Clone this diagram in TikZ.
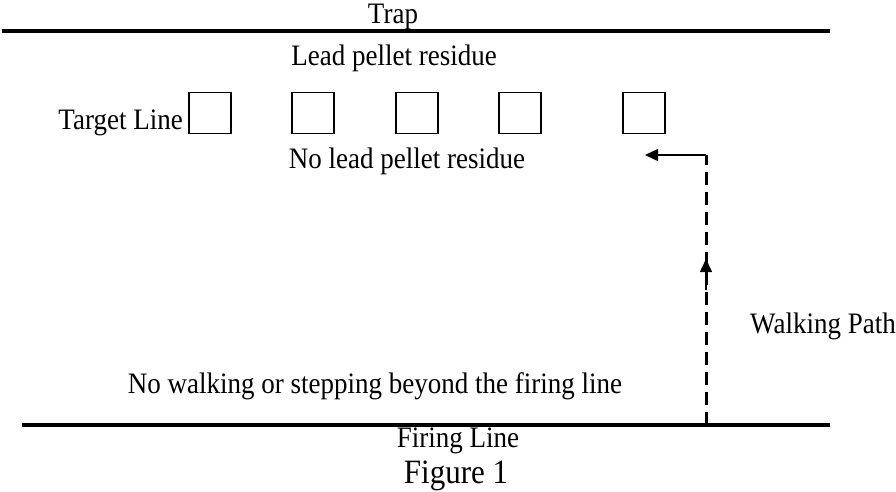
\documentclass[tikz,border=0pt]{standalone}
\usepackage{fontspec}
\setmainfont{Liberation Serif}
\usetikzlibrary{arrows.meta}
\begin{document}
\begin{tikzpicture}[x=1pt,y=-1pt,
  lbl/.style={inner sep=0pt,anchor=base,yscale=1.1,font=\fontsize{27}{30}\selectfont},
  target/.style={draw,line width=1.5pt,minimum width=42pt,minimum height=41pt,inner sep=0pt},
  rangeline/.style={line width=4.5pt},
  walk/.style={line width=3pt,dash pattern=on 13pt off 7pt},
  tip/.style={-{Triangle[length=13pt,width=12pt]}}]
\useasboundingbox (0,0) rectangle (896,491);
% lines
\coordinate (tl) at (2,31);
\coordinate (tr) at (830,31);
\coordinate (bl) at (22,425);
\coordinate (br) at (830,425);
\draw[rangeline] (tl) -- (tr);
\draw[rangeline] (bl) -- (br);
% texts
\node[lbl] (trap) at (393,23) {Trap};
\node[lbl] (lead) at (394,65) {Lead pellet residue};
\node[lbl,anchor=base east] (tline) at (183,129) {Target Line};
\node[lbl] (nolead) at (407,168) {No lead pellet residue};
\node[lbl,anchor=base west] (wpath) at (750,333) {Walking Path};
\node[lbl] (nowalk) at (375,393) {No walking or stepping beyond the firing line};
\node[lbl] (firing) at (458,447) {Firing Line};
\node[inner sep=0pt,anchor=base,yscale=1.1,font=\fontsize{31}{34}\selectfont] (fig) at (456,483) {Figure 1};
% targets
\node[target] (t1) at (210,113) {};
\node[target] (t2) at (313,113) {};
\node[target] (t3) at (417,113) {};
\node[target] (t4) at (520,113) {};
\node[target] (t5) at (644,113) {};
% walking path
\coordinate (start) at (706,425);
\coordinate (corner) at (706,155);
\coordinate (end) at (645,155);
\coordinate (midA) at (706,290);
\coordinate (midB) at (706,259);
\draw[walk] (start) -- (corner);
\draw[line width=1.5pt,tip] (corner) -- (end);
\draw[line width=1.5pt,tip] (midA) -- (midB);
\end{tikzpicture}
\end{document}
